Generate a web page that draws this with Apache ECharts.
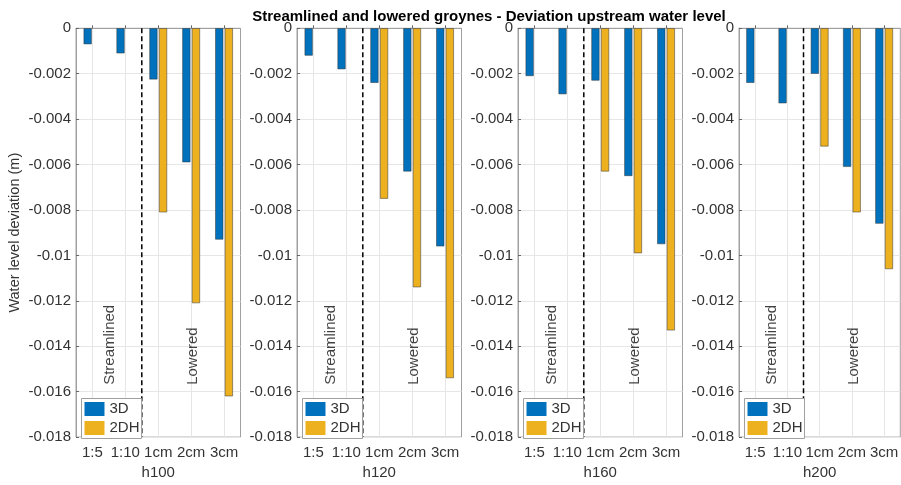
<!DOCTYPE html>
<html>
<head>
<meta charset="utf-8">
<script src="https://cdn.jsdelivr.net/npm/echarts@6/dist/echarts.min.js"></script>
<style>
html,body{margin:0;padding:0;background:#fff;}
#chart{width:901px;height:485px;}
</style>
</head>
<body>
<div id="chart"></div>
<script>
// ---- data ----
const titleText = 'Streamlined and lowered groynes - Deviation upstream water level';
const categories = ['1:5', '1:10', '1cm', '2cm', '3cm'];
const panels = ['h100', 'h120', 'h160', 'h200'];
const seriesNames = ['3D', '2DH'];

const v3D_h100  = [-0.0007, -0.0011, -0.00225, -0.0059, -0.0093];
const v2DH_h100 = [null, null, -0.0081, -0.0121, -0.0162];
const v3D_h120  = [-0.0012, -0.0018, -0.0024, -0.0063, -0.0096];
const v2DH_h120 = [null, null, -0.0075, -0.0114, -0.0154];
const v3D_h160  = [-0.0021, -0.0029, -0.0023, -0.0065, -0.0095];
const v2DH_h160 = [null, null, -0.0063, -0.0099, -0.0133];
const v3D_h200  = [-0.0024, -0.0033, -0.0020, -0.0061, -0.0086];
const v2DH_h200 = [null, null, -0.0052, -0.0081, -0.0106];

const yMin = -0.018, yMax = 0, yStep = 0.002;
const yAxisTitle = 'Water level deviation (m)';

// annotation positions in data units (category index 1..5 on a value scale)
const dividerX = 2.5;
const groupLabels = ['Streamlined', 'Lowered'];
const groupLabelX = [1.53, 4.05];
const groupLabelY = -0.0157;

// ---- layout / style ----
const data3D = [v3D_h100, v3D_h120, v3D_h160, v3D_h200];
const data2DH = [v2DH_h100, v2DH_h120, v2DH_h160, v2DH_h200];
const gridLefts = [76, 297, 518, 739];
const gridW = 164.5, gridTop = 28.3, gridH = 414.7;
const FONT = '"Liberation Sans", Arial, Helvetica, sans-serif';
const colors = ['#0072BD', '#EDB120'];
const frameColor = '#a0a0a0';
const textColor = '#333333';

const grid = [], xAxis = [], yAxis = [], series = [], legend = [];
panels.forEach((p, i) => {
  grid.push({
    left: gridLefts[i], top: gridTop, width: gridW, height: gridH,
    show: true, borderColor: frameColor, borderWidth: 1, backgroundColor: 'transparent',
    containLabel: false
  });
  xAxis.push({
    type: 'category', gridIndex: i, data: categories, position: 'bottom',
    name: p, nameLocation: 'middle', nameGap: 27,
    nameTextStyle: {fontFamily: FONT, fontSize: 15, color: textColor},
    axisLine: {show: true, lineStyle: {color: frameColor}},
    axisTick: {show: true, inside: true, length: 3, alignWithLabel: true, lineStyle: {color: '#666'}},
    axisLabel: {fontFamily: FONT, fontSize: 15, color: textColor, margin: 8, interval: 0},
    splitLine: {show: true, alignWithLabel: true, lineStyle: {color: '#e6e6e6', width: 1}}
  });
  xAxis.push({
    type: 'value', gridIndex: i, min: 0.5, max: 5.5, show: false
  });
  yAxis.push({
    type: 'value', gridIndex: i, min: yMin, max: yMax, interval: yStep,
    name: i === 0 ? yAxisTitle : '', nameLocation: 'middle', nameGap: 54, nameRotate: 90,
    nameTextStyle: {fontFamily: FONT, fontSize: 14.5, color: textColor},
    axisLine: {show: true, lineStyle: {color: frameColor}},
    axisTick: {show: true, inside: true, length: 3, lineStyle: {color: '#666'}},
    axisLabel: {fontFamily: FONT, fontSize: 15, color: textColor, margin: 5,
      formatter: v => String(parseFloat(v.toFixed(4)))},
    splitLine: {show: true, lineStyle: {color: '#e6e6e6', width: 1}}
  });
  const cx = i * 2, vx = i * 2 + 1;
  [data3D[i], data2DH[i]].forEach((d, k) => {
    series.push({
      type: 'bar', name: seriesNames[k], xAxisIndex: cx, yAxisIndex: i,
      data: d, barWidth: 8, barGap: '20%',
      itemStyle: {color: colors[k], borderColor: '#333', borderWidth: 0.5},
      emphasis: {disabled: true}, silent: true, z: 2
    });
  });
  series.push({
    type: 'line', xAxisIndex: vx, yAxisIndex: i,
    data: [[dividerX, yMax], [dividerX, yMin]],
    symbol: 'none', silent: true, z: 3,
    lineStyle: {color: '#000', width: 1.5, type: [5, 3]}
  });
  series.push({
    type: 'scatter', xAxisIndex: vx, yAxisIndex: i, symbolSize: 0, silent: true, z: 3,
    data: groupLabels.map((t, j) => ({name: t, value: [groupLabelX[j], groupLabelY]})),
    label: {show: true, formatter: q => q.name, position: [0, 0], rotate: 90,
      align: 'left', verticalAlign: 'middle',
      fontFamily: FONT, fontSize: 15, color: '#111'},
    emphasis: {disabled: true}
  });
  legend.push({
    data: seriesNames, orient: 'vertical', left: gridLefts[i] + 5.5, top: 398.5,
    itemWidth: 20, itemHeight: 14, itemGap: 4, padding: [3, 2, 3, 3],
    backgroundColor: '#fff', borderColor: '#a0a0a0', borderWidth: 1,
    itemStyle: {borderWidth: 0},
    textStyle: {fontFamily: FONT, fontSize: 15, color: textColor},
    selectedMode: false, icon: 'rect'
  });
});

const chart = echarts.init(document.getElementById('chart'), null, {renderer: 'canvas'});
chart.setOption({
  animation: false,
  backgroundColor: '#fff',
  title: {text: titleText, left: 484, top: 4, textAlign: 'center',
    textStyle: {fontFamily: FONT, fontSize: 15, fontWeight: 'bold', color: '#000'}},
  grid, xAxis, yAxis, series, legend
});
</script>
</body>
</html>
